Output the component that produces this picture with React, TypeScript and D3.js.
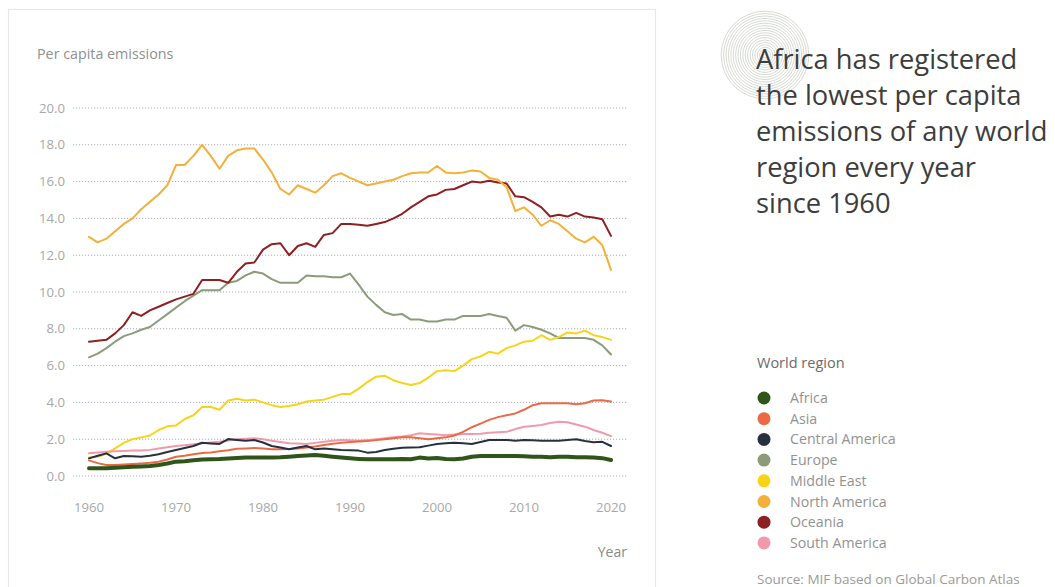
import React from "react";
import * as d3 from "d3";

const years: number[] = d3.range(1960, 2021);

const africa = [0.42, 0.42, 0.42, 0.45, 0.48, 0.5, 0.52, 0.54, 0.6, 0.68, 0.78, 0.8, 0.85, 0.9, 0.91, 0.92, 0.95, 0.98, 1.01, 1.01, 1.01, 1.01, 1.02, 1.05, 1.09, 1.12, 1.14, 1.1, 1.05, 1.0, 0.96, 0.93, 0.91, 0.91, 0.91, 0.91, 0.92, 0.91, 1.0, 0.95, 0.98, 0.93, 0.91, 0.95, 1.05, 1.09, 1.09, 1.09, 1.09, 1.09, 1.07, 1.05, 1.05, 1.02, 1.04, 1.05, 1.02, 1.02, 1.0, 0.97, 0.87];
const asia = [0.85, 0.7, 0.6, 0.6, 0.62, 0.65, 0.68, 0.72, 0.78, 0.9, 1.05, 1.1, 1.18, 1.25, 1.28, 1.35, 1.4, 1.48, 1.5, 1.52, 1.5, 1.45, 1.45, 1.47, 1.5, 1.55, 1.6, 1.68, 1.75, 1.8, 1.85, 1.87, 1.9, 1.95, 2.0, 2.05, 2.1, 2.1, 2.05, 2.0, 2.05, 2.1, 2.2, 2.4, 2.65, 2.85, 3.05, 3.2, 3.3, 3.4, 3.6, 3.85, 3.95, 3.95, 3.95, 3.95, 3.9, 3.95, 4.1, 4.12, 4.05];
const centralAmerica = [0.96, 1.1, 1.23, 0.96, 1.09, 1.07, 1.05, 1.1, 1.18, 1.3, 1.41, 1.52, 1.63, 1.81, 1.77, 1.74, 2.01, 1.96, 1.92, 1.96, 1.82, 1.63, 1.55, 1.45, 1.55, 1.63, 1.45, 1.5, 1.45, 1.41, 1.4, 1.38, 1.27, 1.3, 1.41, 1.48, 1.54, 1.55, 1.56, 1.65, 1.74, 1.78, 1.81, 1.78, 1.74, 1.85, 1.96, 1.96, 1.96, 1.92, 1.96, 1.94, 1.92, 1.92, 1.92, 1.96, 2.0, 1.9, 1.84, 1.86, 1.63];
const europe = [6.45, 6.65, 6.95, 7.3, 7.6, 7.75, 7.95, 8.1, 8.45, 8.8, 9.15, 9.5, 9.8, 10.1, 10.1, 10.1, 10.5, 10.6, 10.9, 11.1, 11.0, 10.7, 10.5, 10.5, 10.5, 10.9, 10.85, 10.85, 10.8, 10.8, 11.0, 10.4, 9.75, 9.3, 8.9, 8.75, 8.8, 8.5, 8.5, 8.4, 8.4, 8.5, 8.5, 8.7, 8.7, 8.7, 8.8, 8.7, 8.6, 7.9, 8.2, 8.1, 7.95, 7.75, 7.5, 7.5, 7.5, 7.5, 7.4, 7.1, 6.6];
const middleEast = [1.0, 1.05, 1.2, 1.5, 1.8, 2.0, 2.1, 2.2, 2.5, 2.7, 2.75, 3.1, 3.3, 3.75, 3.75, 3.6, 4.1, 4.2, 4.1, 4.15, 4.0, 3.85, 3.75, 3.8, 3.9, 4.05, 4.1, 4.15, 4.3, 4.45, 4.45, 4.75, 5.1, 5.4, 5.45, 5.2, 5.05, 4.95, 5.05, 5.35, 5.7, 5.75, 5.7, 6.0, 6.35, 6.5, 6.75, 6.65, 6.95, 7.1, 7.3, 7.35, 7.65, 7.4, 7.55, 7.8, 7.75, 7.9, 7.65, 7.55, 7.4];
const northAmerica = [13.0, 12.7, 12.9, 13.3, 13.7, 14.0, 14.5, 14.9, 15.3, 15.8, 16.9, 16.9, 17.4, 18.0, 17.4, 16.7, 17.4, 17.7, 17.8, 17.8, 17.2, 16.5, 15.6, 15.3, 15.8, 15.6, 15.4, 15.8, 16.3, 16.45, 16.2, 16.0, 15.8, 15.9, 16.0, 16.1, 16.3, 16.45, 16.5, 16.5, 16.85, 16.5, 16.45, 16.5, 16.6, 16.55, 16.2, 16.1, 15.7, 14.4, 14.6, 14.2, 13.6, 13.9, 13.7, 13.3, 12.9, 12.7, 13.0, 12.55, 11.2];
const oceania = [7.3, 7.35, 7.4, 7.75, 8.2, 8.9, 8.7, 9.0, 9.2, 9.4, 9.6, 9.75, 9.9, 10.65, 10.65, 10.65, 10.5, 11.1, 11.55, 11.6, 12.3, 12.6, 12.65, 12.0, 12.5, 12.65, 12.45, 13.1, 13.2, 13.7, 13.7, 13.65, 13.6, 13.7, 13.8, 14.0, 14.25, 14.6, 14.9, 15.2, 15.3, 15.55, 15.6, 15.8, 16.0, 15.95, 16.05, 15.95, 15.9, 15.2, 15.15, 14.9, 14.6, 14.1, 14.2, 14.1, 14.3, 14.1, 14.05, 13.95, 13.05];
const southAmerica = [1.23, 1.28, 1.32, 1.34, 1.36, 1.38, 1.38, 1.42, 1.5, 1.56, 1.63, 1.67, 1.72, 1.78, 1.82, 1.86, 1.93, 2.0, 2.02, 2.05, 2.0, 1.92, 1.85, 1.78, 1.76, 1.74, 1.8, 1.86, 1.92, 1.96, 1.94, 1.92, 1.95, 2.0, 2.05, 2.1, 2.15, 2.22, 2.32, 2.28, 2.25, 2.22, 2.25, 2.28, 2.28, 2.3, 2.35, 2.38, 2.4, 2.55, 2.68, 2.72, 2.77, 2.88, 2.95, 2.92, 2.8, 2.68, 2.5, 2.35, 2.17];

const regionNames = ["Africa", "Asia", "Central America", "Europe", "Middle East", "North America", "Oceania", "South America"];
const regionValues = [africa, asia, centralAmerica, europe, middleEast, northAmerica, oceania, southAmerica];
const regionColors = ["#2f5518", "#ea6a45", "#253140", "#8c9c7a", "#f7d417", "#f2b13a", "#8e1f22", "#f29aac"];

const yTicks = [0, 2, 4, 6, 8, 10, 12, 14, 16, 18, 20];
const xTicks = [1960, 1970, 1980, 1990, 2000, 2010, 2020];

const titleLines = ["Africa has registered", "the lowest per capita", "emissions of any world", "region every year", "since 1960"];

const FONT = "'Open Sans', Lato, sans-serif";

export default function App() {
  const x = d3.scaleLinear().domain([1960, 2020]).range([89, 611]);
  const y = d3.scaleLinear().domain([0, 20]).range([476, 108]);
  const line = d3
    .line<number>()
    .x((_, i) => x(years[i]))
    .y((v) => y(v))
    .curve(d3.curveLinear);

  const order = [3, 6, 5, 4, 7, 1, 2, 0];
  const rings = d3.range(3, 46, 2.4);

  return (
    <svg
      width={1055}
      height={587}
      style={{ position: "absolute", left: 0, top: 0, background: "#fff" }}
      fontFamily={FONT}
    >
      <rect x={0} y={0} width={1055} height={587} fill="#fff" />
      {/* panel */}
      <rect x={8.5} y={9.5} width={647} height={600} fill="#fff" stroke="#e8e8e8" strokeWidth={1.2} />

      <text x={37} y={59} fontSize={14.3} fill="#8f8f8f">Per capita emissions</text>

      {yTicks.map((t) => (
        <g key={t}>
          <line x1={73} x2={627} y1={y(t)} y2={y(t)} stroke="#a9acb8" strokeWidth={1} strokeDasharray="1.2,1.8" />
          <text x={65} y={y(t) + 4.5} fontSize={13.2} fill="#a8a8a8" textAnchor="end">{t.toFixed(1)}</text>
        </g>
      ))}
      {xTicks.map((t) => (
        <text key={t} x={x(t)} y={512} fontSize={13.2} fill="#a8a8a8" textAnchor="middle">{t}</text>
      ))}
      <text x={627} y={557} fontSize={14} fill="#8a8a8a" textAnchor="end">Year</text>

      {order.map((i) => (
        <path
          key={regionNames[i]}
          d={line(regionValues[i]) || ""}
          fill="none"
          stroke={regionColors[i]}
          strokeWidth={i === 0 ? 4 : 2}
          strokeLinejoin="round"
          strokeLinecap="round"
        />
      ))}

      {/* icon */}
      {rings.map((r) => (
        <circle key={r} cx={765} cy={55} r={r} fill="none" stroke="#cdd1c6" strokeWidth={0.8} />
      ))}

      {titleLines.map((t, i) => (
        <text key={t} x={756} y={69 + i * 36} fontSize={27.3} fill="#3d3d3d">{t}</text>
      ))}

      <text x={757} y={368} fontSize={14.5} fill="#6a6a6a">World region</text>
      {regionNames.map((n, i) => (
        <g key={n}>
          <circle cx={764} cy={398 + i * 20.7} r={6.5} fill={regionColors[i]} />
          <text x={790} y={398 + i * 20.7 + 5} fontSize={14.2} fill="#929292">{n}</text>
        </g>
      ))}
      <text x={757} y={584} fontSize={13.5} fill="#9a9a9a">Source: MIF based on Global Carbon Atlas</text>
    </svg>
  );
}
